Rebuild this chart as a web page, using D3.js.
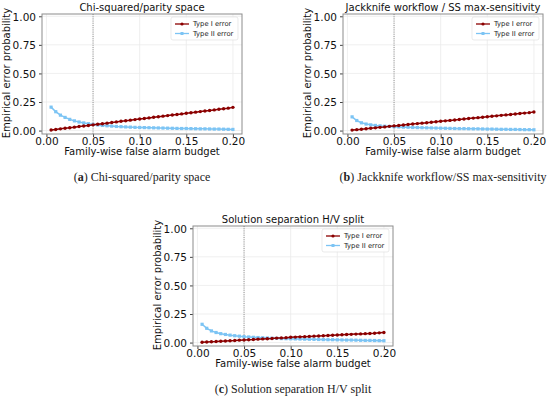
<!DOCTYPE html>
<html>
<head>
<meta charset="utf-8">
<script src="https://cdn.jsdelivr.net/npm/d3@7"></script>
<style>
  body { margin: 0; background: #fff; }
  svg { display: block; }
  .tick text { font-family: "DejaVu Sans", sans-serif; }
</style>
</head>
<body>
<svg width="550" height="402"></svg>
<script>
// x values: family-wise false alarm budget
const budgets = [0.005, 0.010, 0.015, 0.020, 0.025, 0.030, 0.035, 0.040, 0.045, 0.050,
  0.055, 0.060, 0.065, 0.070, 0.075, 0.080, 0.085, 0.090, 0.095, 0.100,
  0.105, 0.110, 0.115, 0.120, 0.125, 0.130, 0.135, 0.140, 0.145, 0.150,
  0.155, 0.160, 0.165, 0.170, 0.175, 0.180, 0.185, 0.190, 0.195, 0.200];

// (a) Chi-squared/parity space
const chiType1 = [0.005, 0.010, 0.015, 0.020, 0.025, 0.030, 0.035, 0.040, 0.045, 0.050,
  0.055, 0.060, 0.065, 0.070, 0.076, 0.081, 0.086, 0.091, 0.096, 0.101,
  0.106, 0.111, 0.116, 0.121, 0.126, 0.131, 0.136, 0.141, 0.146, 0.151,
  0.156, 0.161, 0.166, 0.171, 0.176, 0.181, 0.186, 0.191, 0.196, 0.203];
const chiType2 = [0.205, 0.165, 0.135, 0.115, 0.098, 0.085, 0.075, 0.067, 0.060, 0.054,
  0.049, 0.045, 0.042, 0.039, 0.036, 0.034, 0.032, 0.030, 0.028, 0.027,
  0.026, 0.025, 0.024, 0.023, 0.022, 0.021, 0.020, 0.019, 0.018, 0.018,
  0.017, 0.016, 0.015, 0.015, 0.014, 0.013, 0.013, 0.012, 0.011, 0.010];

// (b) Jackknife workflow / SS max-sensitivity
const jackType1 = [0.004, 0.008, 0.012, 0.016, 0.020, 0.024, 0.028, 0.032, 0.037, 0.041,
  0.045, 0.049, 0.053, 0.057, 0.061, 0.065, 0.069, 0.073, 0.077, 0.081,
  0.085, 0.089, 0.093, 0.097, 0.101, 0.105, 0.109, 0.113, 0.117, 0.121,
  0.125, 0.129, 0.133, 0.137, 0.141, 0.145, 0.149, 0.153, 0.157, 0.162];
const jackType2 = [0.120, 0.088, 0.068, 0.057, 0.050, 0.045, 0.041, 0.038, 0.036, 0.034,
  0.032, 0.030, 0.029, 0.027, 0.026, 0.025, 0.024, 0.023, 0.022, 0.021,
  0.020, 0.019, 0.018, 0.017, 0.017, 0.016, 0.015, 0.015, 0.014, 0.013,
  0.013, 0.012, 0.011, 0.011, 0.010, 0.010, 0.009, 0.008, 0.008, 0.007];

// (c) Solution separation H/V split
const ssType1 = [0.003, 0.005, 0.007, 0.009, 0.012, 0.014, 0.016, 0.018, 0.021, 0.023,
  0.025, 0.027, 0.030, 0.032, 0.034, 0.036, 0.039, 0.041, 0.043, 0.046,
  0.048, 0.050, 0.052, 0.054, 0.056, 0.058, 0.060, 0.062, 0.064, 0.066,
  0.068, 0.070, 0.072, 0.074, 0.076, 0.078, 0.080, 0.082, 0.085, 0.088];
const ssType2 = [0.160, 0.125, 0.102, 0.088, 0.078, 0.071, 0.065, 0.060, 0.056, 0.052,
  0.049, 0.046, 0.044, 0.042, 0.040, 0.038, 0.037, 0.035, 0.034, 0.033,
  0.032, 0.031, 0.030, 0.029, 0.028, 0.027, 0.026, 0.025, 0.025, 0.024,
  0.023, 0.022, 0.022, 0.021, 0.020, 0.019, 0.019, 0.018, 0.017, 0.016];

const xTicks = [0.00, 0.05, 0.10, 0.15, 0.20];
const yTicks = [0.00, 0.25, 0.50, 0.75, 1.00];
const budgetLine = 0.05;

const panels = [
  { title: "Chi-squared/parity space", letter: "a", caption: " Chi-squared/parity space",
    t1: chiType1, t2: chiType2, left: 42, top: 14 },
  { title: "Jackknife workflow / SS max-sensitivity", letter: "b", caption: " Jackknife workflow/SS max-sensitivity",
    t1: jackType1, t2: jackType2, left: 343, top: 14 },
  { title: "Solution separation H/V split", letter: "c", caption: " Solution separation H/V split",
    t1: ssType1, t2: ssType2, left: 193, top: 226 }
];

const svg = d3.select("svg");
const w = 200, h = 120;
const red = "#8b0000", blue = "#7cc4f4";
const sans = "DejaVu Sans, sans-serif";

const drawPanel = (p) => {
  const g = svg.append("g").attr("transform", `translate(${p.left}, ${p.top})`);

  const x = d3.scaleLinear().domain([-0.00475, 0.20975]).range([0, w]);
  const y = d3.scaleLinear().domain([-0.03, 1.02]).range([h, 0]);

  // grid
  g.append("g").selectAll("line").data(xTicks).join("line")
    .attr("x1", d => x(d)).attr("x2", d => x(d)).attr("y1", 0).attr("y2", h)
    .attr("stroke", "#ebebeb").attr("stroke-width", 0.8);
  g.append("g").selectAll("line").data(yTicks).join("line")
    .attr("y1", d => y(d)).attr("y2", d => y(d)).attr("x1", 0).attr("x2", w)
    .attr("stroke", "#ebebeb").attr("stroke-width", 0.8);

  // axes
  const xAxis = g.append("g").attr("transform", `translate(0, ${h})`)
    .call(d3.axisBottom(x).tickValues(xTicks).tickFormat(d3.format(".2f")).tickSize(3).tickSizeOuter(0));
  const yAxis = g.append("g")
    .call(d3.axisLeft(y).tickValues(yTicks).tickFormat(d3.format(".2f")).tickSize(3).tickSizeOuter(0));
  [xAxis, yAxis].forEach(a => {
    a.select(".domain").remove();
    a.selectAll(".tick line").attr("stroke", "#444");
    a.selectAll(".tick text").attr("font-size", 10.5).attr("fill", "#111");
  });
  yAxis.selectAll(".tick text").attr("x", -6).attr("dy", "0.36em");
  xAxis.selectAll(".tick text").attr("y", 4);

  // frame
  g.append("rect").attr("width", w).attr("height", h)
    .attr("fill", "none").attr("stroke", "#8c8c8c").attr("stroke-width", 1);

  // threshold line
  g.append("line")
    .attr("x1", x(budgetLine)).attr("x2", x(budgetLine)).attr("y1", 0).attr("y2", h)
    .attr("stroke", "#777").attr("stroke-width", 0.8).attr("stroke-dasharray", "1,1.2");

  const line = d3.line().x((d, i) => x(budgets[i])).y(d => y(d));

  // type II
  g.append("path").datum(p.t2).attr("d", line)
    .attr("fill", "none").attr("stroke", blue).attr("stroke-width", 1.5);
  g.append("g").selectAll("rect").data(p.t2).join("rect")
    .attr("x", (d, i) => x(budgets[i]) - 1.6).attr("y", d => y(d) - 1.6)
    .attr("width", 3.2).attr("height", 3.2).attr("fill", blue);

  // type I
  g.append("path").datum(p.t1).attr("d", line)
    .attr("fill", "none").attr("stroke", red).attr("stroke-width", 1.5);
  g.append("g").selectAll("circle").data(p.t1).join("circle")
    .attr("cx", (d, i) => x(budgets[i])).attr("cy", d => y(d))
    .attr("r", 1.7).attr("fill", red);

  // legend
  const lg = g.append("g").attr("transform", `translate(${w - 71}, 3)`);
  lg.append("rect").attr("width", 67).attr("height", 23).attr("rx", 2)
    .attr("fill", "#fff").attr("fill-opacity", 0.85).attr("stroke", "#dcdcdc").attr("stroke-width", 0.6);
  [["Type I error", red, "c"], ["Type II error", blue, "s"]].forEach(([label, col, m], i) => {
    const yy = 7 + i * 9.5;
    lg.append("line").attr("x1", 4).attr("x2", 18).attr("y1", yy).attr("y2", yy)
      .attr("stroke", col).attr("stroke-width", 1.3);
    if (m === "c") lg.append("circle").attr("cx", 11).attr("cy", yy).attr("r", 1.6).attr("fill", col);
    else lg.append("rect").attr("x", 9.5).attr("y", yy - 1.5).attr("width", 3).attr("height", 3).attr("fill", col);
    lg.append("text").attr("x", 22).attr("y", yy).attr("dy", "0.35em")
      .attr("font-family", sans).attr("font-size", 6.8).attr("fill", "#222")
      .text(label);
  });

  // labels
  g.append("text").attr("x", w / 2).attr("y", -3).attr("text-anchor", "middle")
    .attr("font-family", sans).attr("font-size", 10).attr("fill", "#111")
    .text(p.title);
  g.append("text").attr("x", w / 2).attr("y", h + 21).attr("text-anchor", "middle")
    .attr("font-family", sans).attr("font-size", 10).attr("fill", "#111")
    .text("Family-wise false alarm budget");
  g.append("text").attr("transform", `translate(-32, ${h / 2 - 1}) rotate(-90)`).attr("text-anchor", "middle")
    .attr("font-family", sans).attr("font-size", 10).attr("fill", "#111")
    .text("Empirical error probability");

  const cap = g.append("text").attr("x", w / 2).attr("y", h + 47).attr("text-anchor", "middle")
    .attr("font-family", "Liberation Serif, serif").attr("font-size", 12).attr("fill", "#222");
  cap.append("tspan").text("(");
  cap.append("tspan").attr("font-weight", "bold").text(p.letter);
  cap.append("tspan").text(")" + p.caption);
};

panels.forEach(drawPanel);
</script>
</body>
</html>
